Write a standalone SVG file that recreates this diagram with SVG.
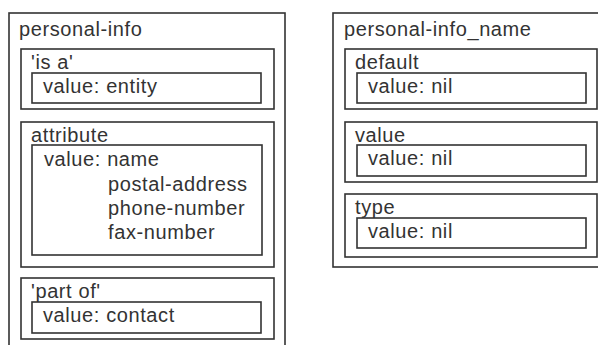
<svg xmlns="http://www.w3.org/2000/svg" width="598" height="345" viewBox="0 0 598 345">
<style>
rect{fill:none;stroke:#333;stroke-width:1.6}
text{font-family:"Liberation Sans",Arial,sans-serif;font-size:20px;letter-spacing:0.6px;fill:#333}
</style>
<rect x="0" y="0" width="598" height="345" style="fill:#fff;stroke:none"/>
<g id="personal-info">
<rect x="9" y="13" width="276" height="345"/>
<text x="19" y="36">personal-info</text>
<g id="is-a">
<rect x="21" y="49" width="253" height="60"/>
<text x="31" y="69">'is a'</text>
<rect x="32" y="73" width="229" height="30"/>
<text x="43" y="93">value: entity</text>
</g>
<g id="attribute">
<rect x="21" y="122" width="253" height="145"/>
<text x="31" y="142">attribute</text>
<rect x="32" y="145" width="230" height="110"/>
<text x="44" y="166">value: name</text>
<text x="108" y="191">postal-address</text>
<text x="108" y="215">phone-number</text>
<text x="108" y="239">fax-number</text>
</g>
<g id="part-of">
<rect x="21" y="278" width="253" height="61"/>
<text x="31" y="298">'part of'</text>
<rect x="32" y="302" width="229" height="31"/>
<text x="43" y="322">value: contact</text>
</g>
</g>
<g id="personal-info_name">
<rect x="333" y="13" width="270" height="254"/>
<text x="344" y="36">personal-info_name</text>
<g id="default">
<rect x="345" y="49" width="252" height="60"/>
<text x="355" y="69">default</text>
<rect x="357" y="73" width="229" height="30"/>
<text x="368" y="93">value: nil</text>
</g>
<g id="value">
<rect x="345" y="122" width="252" height="60"/>
<text x="355" y="142">value</text>
<rect x="357" y="145" width="229" height="31"/>
<text x="368" y="165">value: nil</text>
</g>
<g id="type">
<rect x="345" y="194" width="252" height="63"/>
<text x="355" y="214">type</text>
<rect x="357" y="218" width="229" height="30"/>
<text x="368" y="238">value: nil</text>
</g>
</g>
<g id="connectors"/>
</svg>
